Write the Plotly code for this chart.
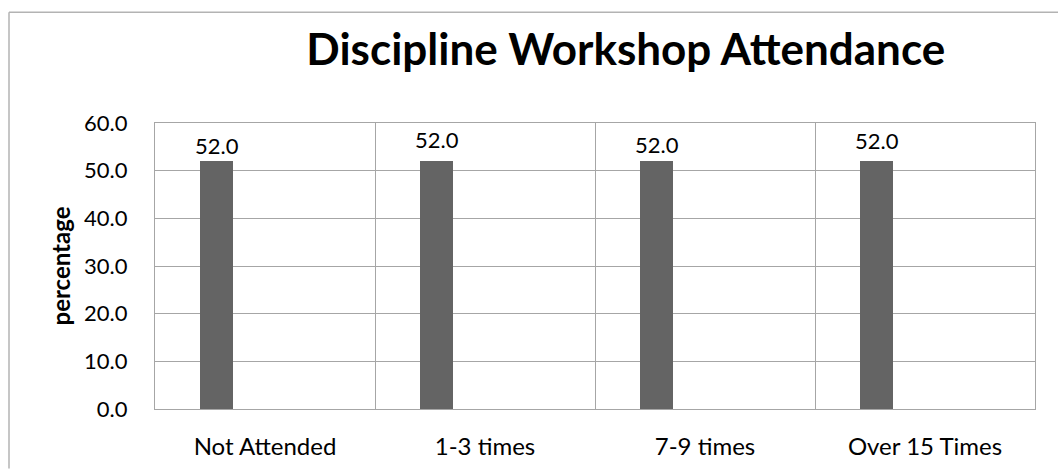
import plotly.graph_objects as go

# Workshop attendance categories and their percentages
categories = ["Not Attended", "1-3 times", "7-9 times", "Over 15 Times"]
percentages = [52.0, 52.0, 52.0, 52.0]
y_ticks = [0, 10, 20, 30, 40, 50, 60]
label_lift = [3, 9, 4, 8]  # small vertical nudge for each value label

FONT = "Lato"
GRID = "#a6a6a6"
BAR = "#646464"
FRAME = "#b3b3b3"

W, H = 1058, 472
M_L, M_R, M_T, M_B = 155, 23, 123, 60
PLOT_W, PLOT_H = W - M_L - M_R, H - M_T - M_B

idx = list(range(len(categories)))
bar_offset = -0.5 + 45 / 220
bar_width = 33 / 220

fig = go.Figure()
fig.add_trace(go.Bar(
    x=idx, y=percentages,
    offset=bar_offset, width=bar_width,
    marker=dict(color=BAR, line=dict(width=0)),
    showlegend=False, hoverinfo="x+y",
))

for i, v, lift in zip(idx, percentages, label_lift):
    fig.add_annotation(
        x=i + bar_offset + bar_width / 2, y=v, xref="x", yref="y",
        text=f"{v:.1f}", showarrow=False, yanchor="bottom", yshift=lift - 3,
        font=dict(family=FONT, size=22, color="#000000"),
    )

# outer chart frame: left and top edges, running to the page edges
frame_x = (9 - M_L) / PLOT_W
frame_y = (H - M_B - 11) / PLOT_H
page_bottom = -M_B / PLOT_H
page_right = (W - M_L) / PLOT_W
fig.add_shape(type="line", xref="paper", yref="paper",
              x0=frame_x, x1=frame_x, y0=page_bottom, y1=frame_y,
              line=dict(color=FRAME, width=1.5), layer="below")
fig.add_shape(type="line", xref="paper", yref="paper",
              x0=frame_x, x1=page_right, y0=frame_y, y1=frame_y,
              line=dict(color=FRAME, width=1.5), layer="below")

fig.update_layout(
    width=W, height=H,
    margin=dict(l=M_L, r=M_R, t=M_T, b=M_B),
    paper_bgcolor="white", plot_bgcolor="white",
    title=dict(text="<b>Discipline Workshop Attendance</b>",
               font=dict(family=FONT, size=44, color="#000000"),
               xref="paper", x=0.535, xanchor="center",
               yref="container", y=1 - 50 / H, yanchor="middle"),
    bargap=0,
)
fig.update_xaxes(
    range=[-0.5, len(categories) - 0.5],
    tickmode="array", tickvals=idx, ticktext=categories,
    tickfont=dict(family=FONT, size=24, color="#000000"),
    ticks="", ticklabelstandoff=16,
    showgrid=False, zeroline=False,
    showline=True, mirror=True, linecolor=GRID, linewidth=1.3,
    minor=dict(tickmode="array", tickvals=[i + 0.5 for i in idx[:-1]],
               showgrid=True, gridcolor=GRID, gridwidth=1.3, ticks=""),
    fixedrange=True,
)
fig.update_yaxes(
    range=[0, 60],
    tickmode="array", tickvals=y_ticks, ticktext=[f"{t:.1f}" for t in y_ticks],
    tickfont=dict(family=FONT, size=22, color="#000000"),
    ticks="", ticklabelstandoff=22,
    showgrid=True, gridcolor=GRID, gridwidth=1.3, zeroline=False,
    showline=True, mirror=True, linecolor=GRID, linewidth=1.3,
    title=dict(text="<b>percentage</b>", font=dict(family=FONT, size=24, color="#000000"),
               standoff=6),
    fixedrange=True,
)

fig.write_html("out.html")
